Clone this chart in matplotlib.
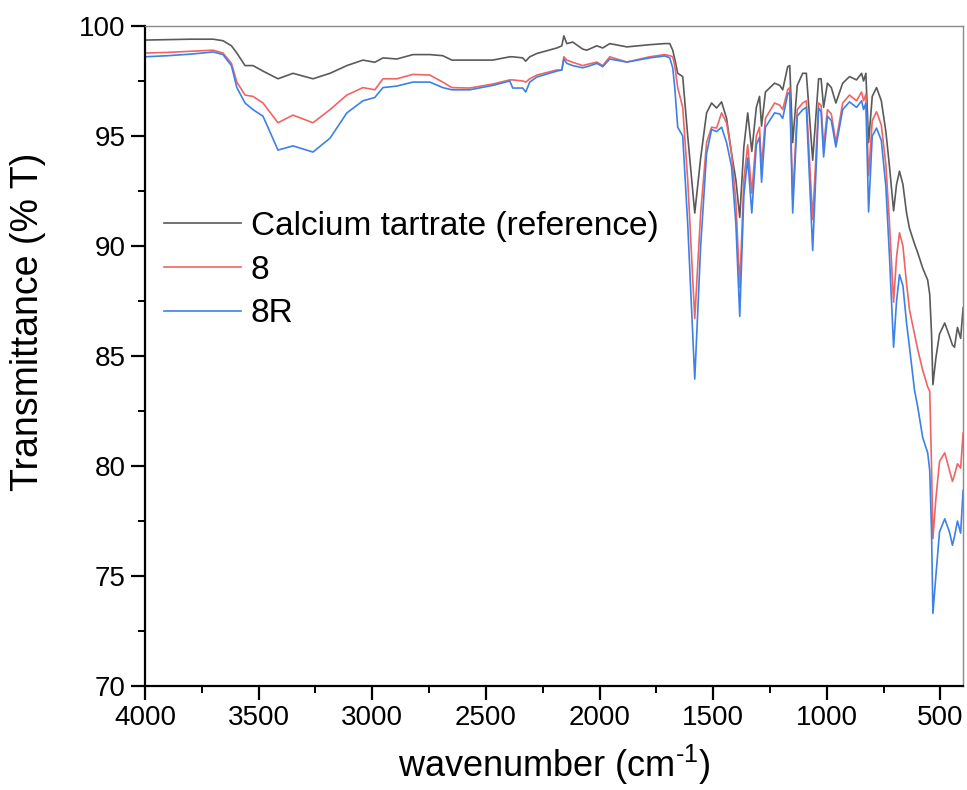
import matplotlib
matplotlib.use('Agg')
from matplotlib import pyplot as plt
from matplotlib.ticker import MultipleLocator

plt.rcParams['font.family'] = ['Liberation Sans', 'DejaVu Sans']
plt.rcParams['mathtext.fontset'] = 'custom'
plt.rcParams['mathtext.rm'] = 'Liberation Sans'
plt.rcParams['mathtext.it'] = 'Liberation Sans:italic'
plt.rcParams['mathtext.bf'] = 'Liberation Sans:bold'

# wavenumber grid (cm-1)
wavenumber = [
    4000, 3900, 3800, 3700, 3657, 3620, 3596, 3560, 3525, 3481, 3415, 3349, 3261,
    3186, 3112, 3041, 2989, 2953, 2892, 2821, 2747, 2690, 2650, 2571, 2470, 2395,
    2382, 2338, 2325, 2307, 2276, 2188, 2166, 2157, 2144, 2118, 2074, 2056, 2012,
    1986, 1955, 1880, 1779, 1713, 1691, 1678, 1669, 1656, 1634, 1612, 1581, 1555,
    1529, 1507, 1485, 1463, 1441, 1419, 1400, 1383, 1365, 1348, 1330, 1310, 1296,
    1287, 1270, 1230, 1207, 1194, 1172, 1163, 1150, 1130, 1106, 1090, 1062, 1036,
    1025, 1014, 997, 980, 960, 930, 900, 869, 847, 838, 828, 816, 800, 781, 760,
    740, 724, 706, 693, 680, 665, 649, 636, 614, 600, 578, 556, 547, 539, 533,
    520, 504, 481, 460, 447, 438, 425, 411, 400,
]

t_ref = [
    99.36, 99.38, 99.40, 99.40, 99.33, 99.10, 98.77, 98.20, 98.20, 97.95, 97.60, 97.85, 97.60,
    97.85, 98.20, 98.45, 98.35, 98.55, 98.50, 98.70, 98.70, 98.65, 98.45, 98.45, 98.45, 98.60,
    98.60, 98.55, 98.40, 98.60, 98.75, 99.00, 99.10, 99.55, 99.20, 99.27, 98.95, 98.90, 99.10,
    99.00, 99.20, 99.05, 99.15, 99.20, 99.20, 98.90, 98.50, 97.85, 97.70, 95.00, 91.50, 94.00,
    96.05, 96.50, 96.27, 96.55, 95.80, 94.20, 93.00, 91.30, 94.50, 96.05, 94.30, 96.30, 96.80,
    95.45, 97.00, 97.40, 97.30, 97.10, 98.15, 98.20, 94.70, 97.30, 97.85, 97.85, 93.90, 97.60,
    97.60, 96.30, 97.40, 97.20, 96.50, 97.40, 97.70, 97.55, 97.85, 97.50, 97.85, 94.70, 96.80, 97.20, 96.60,
    95.20, 93.60, 91.60, 92.80, 93.40, 92.80, 91.50, 90.80, 90.10, 89.70, 89.00, 88.45, 87.80, 86.00, 83.70,
    84.90, 86.00, 86.50, 85.90, 85.50, 85.40, 86.30, 85.80, 87.20,
]

t_8 = [
    98.77, 98.80, 98.85, 98.90, 98.77, 98.30, 97.45, 96.86, 96.80, 96.50, 95.60, 95.95, 95.60,
    96.20, 96.86, 97.20, 97.10, 97.60, 97.60, 97.80, 97.77, 97.45, 97.20, 97.18, 97.36, 97.55,
    97.55, 97.50, 97.45, 97.60, 97.77, 98.00, 98.00, 98.60, 98.45, 98.35, 98.20, 98.25, 98.36,
    98.20, 98.60, 98.36, 98.60, 98.70, 98.65, 98.60, 98.20, 97.20, 96.30, 93.00, 86.70, 91.50,
    94.70, 95.40, 95.36, 96.05, 95.60, 94.20, 92.00, 88.10, 93.00, 94.60, 92.40, 95.00, 95.40,
    93.60, 95.80, 96.50, 96.40, 96.20, 97.10, 97.20, 92.10, 96.20, 96.50, 96.60, 91.20, 96.50,
    96.40, 94.50, 96.20, 96.00, 94.70, 96.50, 96.86, 96.60, 97.00, 96.60, 96.90, 93.20, 95.70, 96.10, 95.50,
    93.70, 91.00, 87.45, 89.50, 90.60, 90.00, 88.30, 87.10, 86.00, 85.30, 84.36, 83.60, 83.40, 80.00, 76.70,
    78.50, 80.20, 80.60, 79.80, 79.30, 79.60, 80.10, 79.90, 81.50,
]

t_8r = [
    98.60, 98.65, 98.72, 98.82, 98.70, 98.20, 97.20, 96.50, 96.20, 95.90, 94.36, 94.55, 94.27,
    94.90, 96.05, 96.60, 96.75, 97.20, 97.27, 97.45, 97.45, 97.20, 97.10, 97.10, 97.30, 97.50,
    97.18, 97.18, 97.00, 97.45, 97.68, 97.95, 98.00, 98.50, 98.30, 98.20, 98.10, 98.15, 98.30,
    98.15, 98.50, 98.36, 98.55, 98.64, 98.55, 98.10, 97.20, 95.40, 95.00, 91.00, 83.95, 90.00,
    94.20, 95.30, 95.20, 95.40, 94.70, 93.60, 91.00, 86.80, 92.30, 94.00, 91.50, 94.60, 94.95,
    92.90, 95.40, 96.05, 96.00, 95.80, 96.90, 97.00, 91.50, 95.90, 96.20, 96.30, 89.80, 96.27,
    96.10, 94.05, 95.90, 95.70, 94.50, 96.20, 96.55, 96.30, 96.60, 96.20, 96.50, 91.55, 95.00, 95.36, 94.80,
    92.70, 89.50, 85.40, 87.50, 88.70, 88.20, 86.50, 85.40, 83.45, 82.70, 81.30, 80.60, 79.80, 77.00, 73.30,
    75.00, 77.00, 77.60, 77.00, 76.40, 76.80, 77.50, 76.95, 78.90,
]

labels = ['Calcium tartrate (reference)', '8', '8R']
colors = ['#5a5a5a', '#f06464', '#3d80e8']

fig = plt.figure(figsize=(9.67, 7.9), dpi=100)
ax = fig.add_axes([0.150, 0.1316, 0.846, 0.8355])

for t, lab, c in zip([t_ref, t_8, t_8r], labels, colors):
    ax.plot(wavenumber, t, color=c, lw=1.2, label=lab)

ax.set_xlim(4000, 400)
ax.set_ylim(70, 100)
ax.xaxis.set_major_locator(MultipleLocator(500))
ax.xaxis.set_minor_locator(MultipleLocator(250))
ax.yaxis.set_major_locator(MultipleLocator(5))
ax.yaxis.set_minor_locator(MultipleLocator(2.5))

ax.tick_params(which='major', direction='out', length=10, width=1.6, labelsize=20, pad=4)
ax.tick_params(which='minor', direction='out', length=5, width=1.4)
ax.tick_params(top=False, right=False, which='both')

for s in ['left', 'bottom']:
    ax.spines[s].set_linewidth(1.6)
    ax.spines[s].set_color('black')
for s in ['top', 'right']:
    ax.spines[s].set_linewidth(1.0)
    ax.spines[s].set_color('#8a8a8a')

ax.set_xlabel(r'wavenumber (cm$^{\text{-1}}$)', fontsize=26, labelpad=8)
ax.set_ylabel('Transmittance (% T)', fontsize=27)
ax.yaxis.set_label_coords(-0.121, 0.5515)

ax.legend(loc='center left', bbox_to_anchor=(164 / 967, 1 - 270 / 790),
          bbox_transform=fig.transFigure, frameon=False, fontsize=24,
          handlelength=2.3, handletextpad=0.3, labelspacing=0.38, borderpad=0,
          borderaxespad=0)

fig.savefig('out.png', dpi=100)
